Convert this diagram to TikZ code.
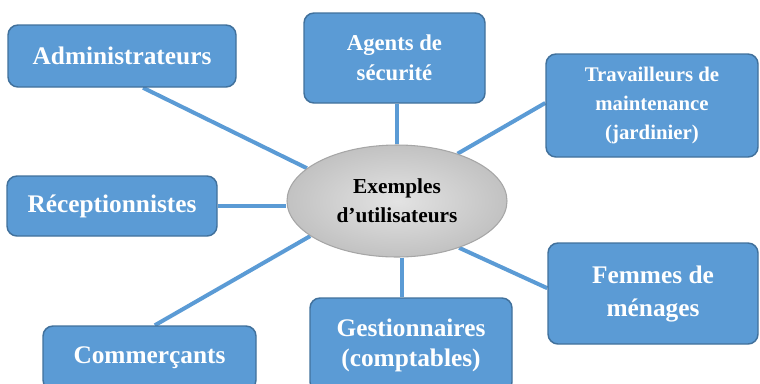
\documentclass[tikz,border=0pt]{standalone}
\usepackage{fontspec}
\setmainfont{Liberation Serif}
\usetikzlibrary{shapes.geometric,backgrounds}
\definecolor{boxfill}{HTML}{5B9BD5}
\definecolor{boxline}{HTML}{41719C}
\definecolor{ellline}{HTML}{A6A6A6}
\begin{document}
\begin{tikzpicture}[x=0.75pt,y=-0.75pt,
  ubox/.style={draw=boxline, line width=1.1pt, fill=boxfill, rounded corners=7.5pt,
    text=white, align=center, inner sep=0pt},
  bigtxt/.style={font=\bfseries\fontsize{19}{24.75}\selectfont},
  link/.style={draw=boxfill, line width=3pt}]
\useasboundingbox (0,0) rectangle (760,383);
\clip (0,0) rectangle (760,383);

\node[ellipse, draw=ellline, line width=0.8pt, inner color=gray!22, outer color=gray!48,
  minimum width=165pt, minimum height=84pt, inner sep=0pt, align=center,
  font=\bfseries\fontsize{16}{22}\selectfont] (ell) at (397,201) {Exemples\\d’utilisateurs};

\node[ubox, bigtxt, minimum width=171pt, minimum height=46.5pt] (admin) at (122,56) {Administrateurs};
\node[ubox, font=\bfseries\fontsize{17}{22.5}\selectfont, minimum width=135.75pt, minimum height=67.5pt] (agents) at (394.5,58) {Agents de\\sécurité};
\node[ubox, font=\bfseries\fontsize{15.6}{22}\selectfont, minimum width=159pt, minimum height=77.25pt] (trav) at (652,105.5) {Travailleurs de\\maintenance\\(jardinier)};
\node[ubox, bigtxt, minimum width=157.5pt, minimum height=45pt] (recep) at (112,206) {Réceptionnistes};
\node[ubox, bigtxt, minimum width=159.75pt, minimum height=48pt] (comm) at (149.5,358) {Commerçants};
\node[ubox, font=\bfseries\fontsize{19}{22.5}\selectfont, minimum width=151.5pt, minimum height=70.5pt] (gest) at (411,345) {Gestionnaires\\(comptables)};
\node[ubox, bigtxt, minimum width=157.5pt, minimum height=75.75pt] (femmes) at (653,293.5) {Femmes de\\ménages};

\begin{scope}[on background layer]
\draw[link] ([xshift=15.75pt]admin.south) -- (ell.160);
\draw[link] (agents.south -| ell.north) -- (ell.north);
\draw[link] (ell.38.7) -- ([yshift=1.9pt]trav.west);
\draw[link] (recep.east) -- (recep.east -| ell.west);
\draw[link] (ell.202.6) -- ([xshift=4pt]comm.north);
\draw[link] ([xshift=3.75pt]ell.south) -- ([xshift=3.75pt]ell.south |- gest.north);
\draw[link] (ell.323.9) -- ([yshift=4pt]femmes.west);
\end{scope}
\end{tikzpicture}
\end{document}
